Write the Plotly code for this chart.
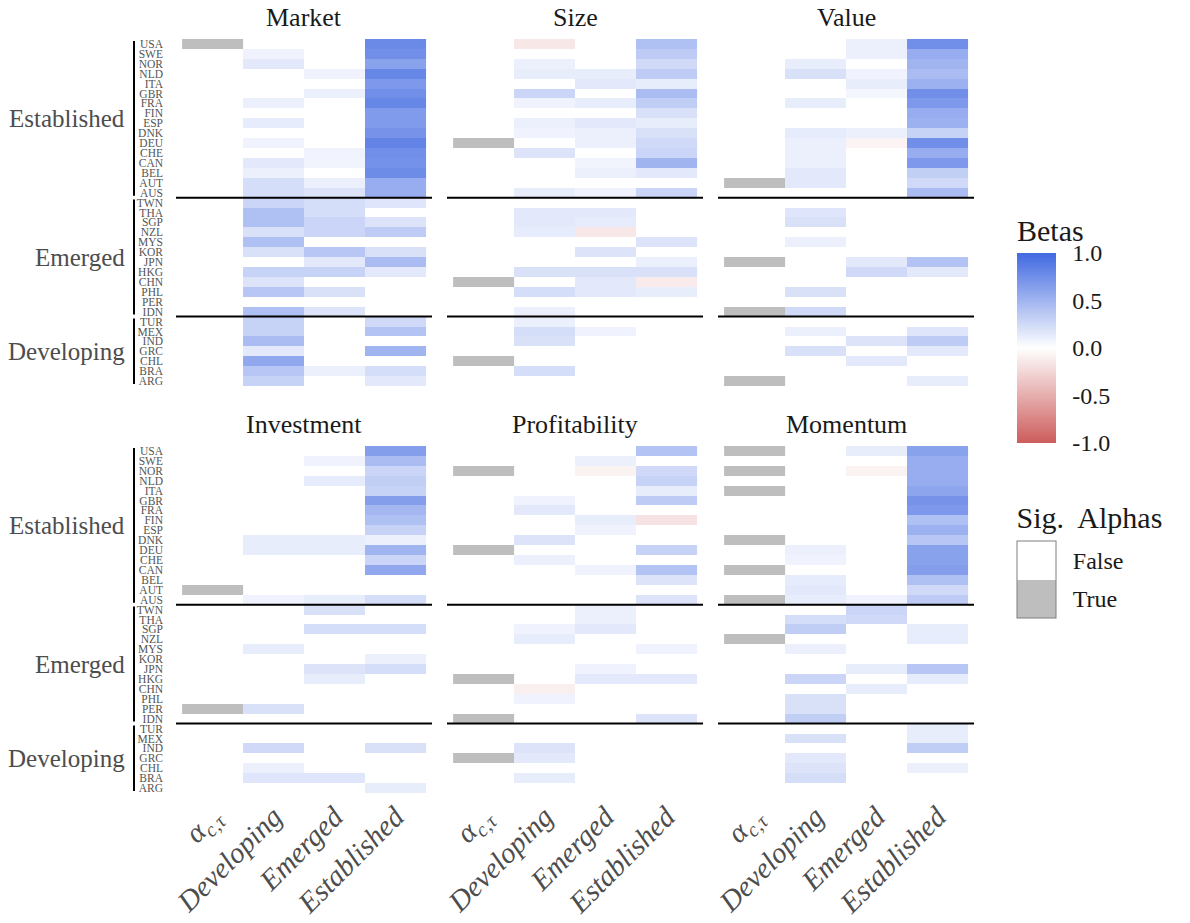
import plotly.graph_objects as go

# ---- countries, grouped by market status (top to bottom) ----
established = ["USA", "SWE", "NOR", "NLD", "ITA", "GBR", "FRA", "FIN", "ESP",
               "DNK", "DEU", "CHE", "CAN", "BEL", "AUT", "AUS"]
emerged = ["TWN", "THA", "SGP", "NZL", "MYS", "KOR", "JPN", "HKG", "CHN",
           "PHL", "PER", "IDN"]
developing = ["TUR", "MEX", "IND", "GRC", "CHL", "BRA", "ARG"]
groups = [("Established", established), ("Emerged", emerged), ("Developing", developing)]
countries = established + emerged + developing

columns = ["<i>α</i><sub><i>c,τ</i></sub>", "<i>Developing</i>", "<i>Emerged</i>", "<i>Established</i>"]
factors = ["Market", "Size", "Value", "Investment", "Profitability", "Momentum"]

N = None
# ---- significant betas by regional factor (None = not significant) ----
mkt_dev = [N, .08, .15, N, N, N, .10, N, .13, N, .08, N, .15, .10, .22, .22,
           .28, .42, .42, .20, .42, .20, N, .30, .18, .38, N, .42,
           .30, .30, .45, .15, .58, .38, .30]
mkt_emg = [N, N, N, .08, N, .10, N, N, N, N, N, .08, .07, N, .10, .18,
           .22, .22, .28, .28, N, .38, .15, .30, N, .20, N, .18,
           N, N, N, N, N, .10, N]
mkt_est = [.78, .75, .62, .80, .68, .75, .80, .67, .67, .72, .82, .75, .73, .77, .55, .55,
           .17, N, .18, .35, N, .20, .45, .15, N, N, N, N,
           .25, .40, N, .50, N, .22, .15]
mkt_sig = ["USA"]

siz_dev = [-.15, N, .10, .12, N, .28, .08, N, .10, .08, N, .18, N, N, N, .12,
           N, .15, .15, .13, N, N, N, .20, N, .22, N, .10,
           .10, .22, .20, N, N, .22, N]
siz_emg = [N, N, N, .12, .15, N, .12, N, .15, .10, .10, N, .07, .10, N, .08,
           N, .15, .13, -.15, N, .18, N, .20, .15, .15, N, N,
           N, .08, N, N, N, N, N]
siz_est = [.42, .35, .25, .35, .12, .45, .33, .20, .12, .20, .25, .28, .50, .15, N, .28,
           N, N, N, N, .18, N, .10, .20, -.12, .12, N, N,
           N, N, N, N, N, N, N]
siz_sig = ["DEU", "CHN", "CHL"]

val_dev = [N, N, .12, .20, N, N, .12, N, N, .13, .10, .10, .10, .15, .15, N,
           N, .17, .20, N, .10, N, N, N, N, .20, N, .25,
           N, .10, N, .20, N, N, N]
val_emg = [.10, .10, N, .08, .12, .06, N, N, N, .10, -.07, N, N, N, N, N,
           N, N, N, N, N, N, .15, .25, N, N, N, N,
           N, N, .18, N, .15, N, N]
val_est = [.75, .55, .50, .45, .52, .75, .68, .55, .52, .30, .75, .55, .68, .32, .25, .45,
           N, N, N, N, N, N, .40, .15, N, N, N, N,
           N, .17, .35, .15, N, N, .12]
val_sig = ["AUT", "JPN", "IDN", "ARG"]

inv_dev = [N, N, N, N, N, N, N, N, N, .12, .12, N, N, N, N, .08,
           N, N, N, N, .12, N, N, N, N, N, .20, N,
           N, N, .25, N, .10, .17, N]
inv_emg = [N, .08, N, .13, N, N, N, N, N, .12, .12, N, N, N, N, .12,
           .20, N, .22, N, N, N, .18, .12, N, N, N, N,
           N, N, N, N, N, .17, N]
inv_est = [.65, .45, .28, .32, .30, .65, .48, .42, .30, .10, .50, .28, .58, N, N, .22,
           N, N, .22, N, N, .10, .22, N, N, N, N, N,
           N, N, .20, N, N, N, .12]
inv_sig = ["AUT", "PER"]

pro_dev = [N, N, N, N, N, .08, .15, N, N, .18, N, .10, N, N, N, N,
           N, N, .08, .12, N, N, N, N, -.10, .08, N, N,
           N, N, .18, .15, N, .12, N]
pro_emg = [N, .10, -.08, N, N, N, N, .12, .08, N, N, N, .08, N, N, N,
           .10, .10, .15, N, N, N, .08, .15, N, N, N, N,
           N, N, N, N, N, N, N]
pro_est = [.40, N, .25, .30, .12, .35, N, -.18, N, N, .30, N, .40, .18, N, .18,
           N, N, N, N, .08, N, N, .15, N, N, N, .18,
           N, N, N, N, N, N, N]
pro_sig = ["NOR", "DEU", "HKG", "IDN", "GRC"]

mom_dev = [N, N, N, N, N, N, N, N, N, N, .10, .08, N, .13, .15, .12,
           N, .22, .33, N, .10, N, N, .28, N, .20, .20, .32,
           N, .20, N, .15, .18, .22, N]
mom_emg = [.12, N, -.08, N, N, N, N, N, N, N, N, N, N, N, N, .08,
           .28, .25, N, N, N, N, .12, N, .12, N, N, N,
           N, N, N, N, N, N, N]
mom_est = [.62, .55, .55, .55, .60, .72, .68, .42, .52, .38, .62, .62, .65, .42, .25, .35,
           N, N, .12, .13, N, N, .38, .13, N, N, N, N,
           .12, .12, .33, N, .10, N, N]
mom_sig = ["USA", "NOR", "ITA", "DNK", "CAN", "AUS", "NZL"]

panels = [
    (mkt_dev, mkt_emg, mkt_est, mkt_sig),
    (siz_dev, siz_emg, siz_est, siz_sig),
    (val_dev, val_emg, val_est, val_sig),
    (inv_dev, inv_emg, inv_est, inv_sig),
    (pro_dev, pro_emg, pro_est, pro_sig),
    (mom_dev, mom_emg, mom_est, mom_sig),
]

# ---- page geometry (pixels) ----
W, H = 1190, 923
FONT = "Liberation Serif"
col_px = [(176, 432), (447, 703), (718, 974)]
row_px = [(39, 386), (446, 793)]


def fx(p):
    return p / W


def fy(p):
    return 1 - p / H


n = len(countries)
rows_idx = list(range(n))
# legend order: True drawn at the bottom, False on top
sig_code = {True: 0, False: 1}

fig = go.Figure()
layout = dict(
    width=W, height=H,
    margin=dict(l=0, r=0, t=0, b=0, autoexpand=False),
    paper_bgcolor="white", plot_bgcolor="white",
    font=dict(family=FONT, color="#1a1a1a"),
    showlegend=False,
)
shapes, annotations = [], []

for k, (dev, emg, est, sig) in enumerate(panels):
    r, c = divmod(k, 3)
    sfx = "" if k == 0 else str(k + 1)
    xa, ya = "x" + sfx, "y" + sfx

    # significant alphas column
    fig.add_trace(go.Heatmap(
        x=[0], y=rows_idx,
        z=[[sig_code[cty in sig]] for cty in countries],
        coloraxis="coloraxis2", xaxis=xa, yaxis=ya, hoverinfo="skip",
    ))
    # betas on the three regional factors
    fig.add_trace(go.Heatmap(
        x=[1, 2, 3], y=rows_idx,
        z=[[dev[i], emg[i], est[i]] for i in rows_idx],
        coloraxis="coloraxis", xaxis=xa, yaxis=ya,
        hovertemplate="%{z:.2f}<extra></extra>",
    ))

    x0, x1 = col_px[c]
    y0, y1 = row_px[r]
    layout["xaxis" + sfx] = dict(
        domain=[fx(x0), fx(x1)], range=[-0.6, 3.6], anchor=ya,
        showgrid=False, zeroline=False, showline=False, ticks="",
        tickvals=[0, 1, 2, 3], ticktext=columns,
        showticklabels=(r == 1), tickangle=-45,
        tickfont=dict(size=29, color="#4d4d4d", family=FONT),
        automargin=False, fixedrange=True,
    )
    layout["yaxis" + sfx] = dict(
        domain=[fy(y1), fy(y0)], range=[n - 0.5, -0.5], anchor=xa,
        showgrid=False, zeroline=False, showline=False, ticks="",
        tickvals=rows_idx, ticktext=countries,
        showticklabels=(c == 0), ticklabelstandoff=12,
        tickfont=dict(size=11.5, color="#555555", family=FONT),
        automargin=False, fixedrange=True,
    )

    # facet title
    annotations.append(dict(
        text=factors[k], xref="paper", yref="paper",
        x=fx((x0 + x1) / 2), y=fy(y0), yanchor="bottom", xanchor="center",
        yshift=5, showarrow=False, font=dict(size=26, color="#1a1a1a"),
    ))

    # group separators
    start = 0
    for gi, (gname, members) in enumerate(groups):
        end = start + len(members) - 1
        if gi < len(groups) - 1:
            shapes.append(dict(
                type="line", xref=xa + " domain", yref=ya,
                x0=0, x1=1, y0=end + 0.5, y1=end + 0.5,
                line=dict(color="black", width=2),
            ))
        if c == 0:
            # bracket and group name left of the country codes
            shapes.append(dict(
                type="line", xref="paper", yref=ya,
                x0=fx(134), x1=fx(134), y0=start - 0.3, y1=end + 0.3,
                line=dict(color="black", width=2),
            ))
            annotations.append(dict(
                text=gname, xref="paper", yref=ya,
                x=fx(127), y=(start + end) / 2, xanchor="right", yanchor="middle",
                showarrow=False, font=dict(size=25, color="#4d4d4d"),
            ))
        start = end + 1

layout["coloraxis"] = dict(
    cmin=-1, cmax=1,
    colorscale=[[0, "#CD5C5C"], [0.5, "#FFFFFF"], [1, "#4169E1"]],
    colorbar=dict(
        title=dict(text="Betas", side="top", font=dict(size=30, color="#1a1a1a")),
        x=fx(1017), xanchor="left", xpad=0,
        y=fy(443), yanchor="bottom", ypad=0,
        len=228, lenmode="pixels", thickness=39, thicknessmode="pixels",
        outlinewidth=0,
        tickvals=[-1, -0.5, 0, 0.5, 1],
        ticktext=["-1.0", "-0.5", "0.0", "0.5", "1.0"],
        ticks="outside", ticklen=12, tickcolor="rgba(0,0,0,0)",
        tickfont=dict(size=24, color="#1a1a1a"),
    ),
)
layout["coloraxis2"] = dict(
    cmin=0, cmax=1,
    colorscale=[[0, "#BEBEBE"], [0.5, "#BEBEBE"], [0.5, "#FFFFFF"], [1, "#FFFFFF"]],
    colorbar=dict(
        title=dict(text="Sig.  Alphas", side="top", font=dict(size=30, color="#1a1a1a")),
        x=fx(1017), xanchor="left", xpad=0,
        y=fy(618), yanchor="bottom", ypad=0,
        len=115, lenmode="pixels", thickness=39, thicknessmode="pixels",
        outlinewidth=1, outlinecolor="#7f7f7f",
        tickvals=[0.25, 0.75], ticktext=["True", "False"],
        ticks="outside", ticklen=12, tickcolor="rgba(0,0,0,0)",
        tickfont=dict(size=24, color="#1a1a1a"),
    ),
)
layout["shapes"] = shapes
layout["annotations"] = annotations
fig.update_layout(**layout)

fig.write_html("out.html")
